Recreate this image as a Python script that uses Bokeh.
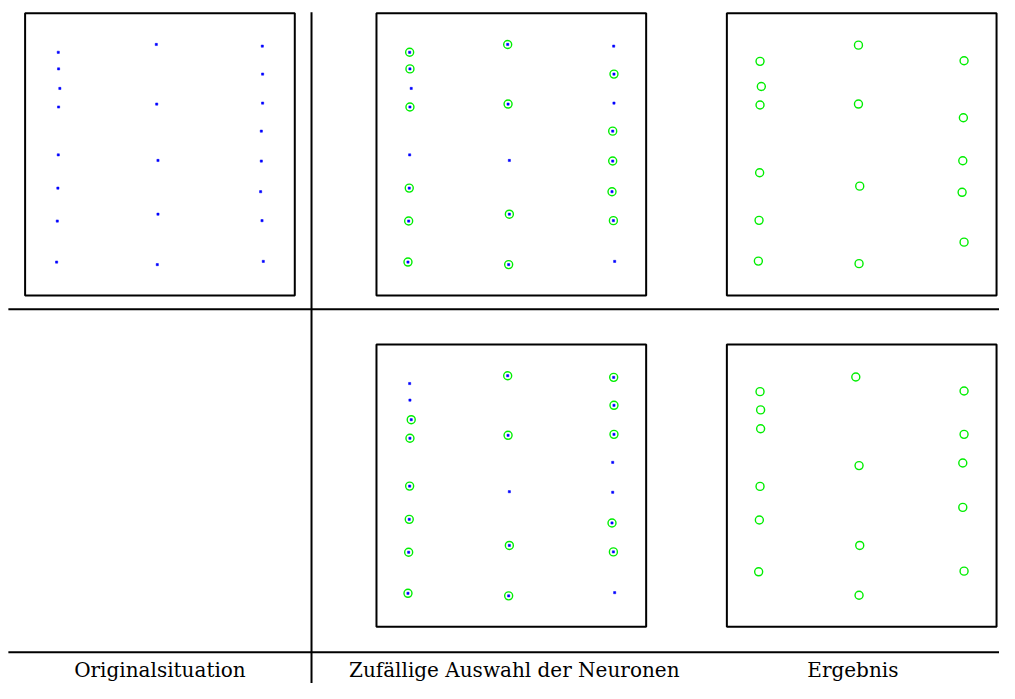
from bokeh.plotting import figure
from bokeh.models import Range1d, ColumnDataSource
from bokeh.embed import file_html
from bokeh.resources import INLINE
from bokeh.core.properties import value

# ---- data: neuron positions inside a panel (panel units, origin top-left) ----
orig_x = [33.7, 34.0, 35.3, 34.0, 33.7, 33.3, 32.7, 32.0,
          133.3, 133.7, 135.0, 135.0, 134.3,
          241.0, 241.3, 241.3, 240.0, 240.0, 239.3, 240.7, 242.0]
orig_y = [40.0, 57.0, 77.0, 96.0, 145.0, 179.0, 212.7, 254.7,
          32.0, 93.0, 150.7, 205.7, 257.3,
          33.7, 62.3, 92.0, 120.7, 151.3, 182.7, 212.3, 254.0]

# randomly selected neurons (indices into orig_*)
sel_top = [0, 1, 3, 5, 6, 7, 8, 9, 11, 12, 14, 16, 17, 18, 19]
sel_bottom = [2, 3, 4, 5, 6, 7, 8, 9, 11, 12, 13, 14, 15, 18, 19]

# results
res_top_x = [33.7, 35.0, 33.7, 33.3, 32.7, 32.0,
             133.7, 133.7, 135.0, 134.3,
             241.0, 240.3, 239.7, 239.0, 241.0]
res_top_y = [49.3, 75.0, 94.0, 163.3, 212.0, 253.7,
             32.7, 93.0, 177.0, 256.3,
             48.7, 107.0, 151.0, 183.3, 234.3]
res_bot_x = [33.7, 34.3, 34.3, 33.7, 33.0, 32.3,
             131.0, 134.3, 135.0, 134.3,
             241.0, 241.0, 239.7, 239.7, 241.0]
res_bot_y = [48.3, 67.0, 86.3, 145.3, 179.7, 232.7,
             33.3, 124.0, 205.7, 256.7,
             47.7, 92.0, 121.3, 166.7, 232.0]

column_labels = ["Originalsituation", "Zufällige Auswahl der Neuronen", "Ergebnis"]

# ---- layout (reference pixel space) ----
PANEL_W, PANEL_H = 274, 289
COL_X = [25, 382, 738]
ROW_Y = [13, 352]
LABEL_X = [162, 522, 866]
LABEL_Y = 685

BLUE = "#0000ff"
GREEN = "#00ee00"

p = figure(width=999, height=683, output_backend="svg", toolbar_location=None,
           x_range=Range1d(0, 1015), y_range=Range1d(699, 0),
           min_border=0, outline_line_color=None)
p.axis.visible = False
p.grid.visible = False
p.background_fill_color = "white"
p.border_fill_color = "white"

# separators
p.segment(x0=[316, 8, 8], y0=[12, 316, 667], x1=[316, 1015, 1015], y1=[699, 316, 667],
          line_color="black", line_width=2)

# panel frames
panels = [(0, 0), (1, 0), (2, 0), (1, 1), (2, 1)]
p.quad(left=[COL_X[c] for c, r in panels],
       right=[COL_X[c] + PANEL_W for c, r in panels],
       top=[ROW_Y[r] for c, r in panels],
       bottom=[ROW_Y[r] + PANEL_H for c, r in panels],
       fill_color=None, line_color="black", line_width=2)


def dots(col, row, xs, ys):
    p.scatter([COL_X[col] + x for x in xs], [ROW_Y[row] + y for y in ys],
              marker="square", size=2.2, fill_color=BLUE, line_color=BLUE, line_width=0.5)


def rings(col, row, xs, ys):
    p.scatter([COL_X[col] + x for x in xs], [ROW_Y[row] + y for y in ys],
              marker="circle", size=8, fill_color=None, line_color=GREEN, line_width=1.4)


# original situation
dots(0, 0, orig_x, orig_y)
# random selection (top & bottom)
dots(1, 0, orig_x, orig_y)
rings(1, 0, [orig_x[i] for i in sel_top], [orig_y[i] for i in sel_top])
dots(1, 1, orig_x, orig_y)
rings(1, 1, [orig_x[i] for i in sel_bottom], [orig_y[i] for i in sel_bottom])
# results
rings(2, 0, res_top_x, res_top_y)
rings(2, 1, res_bot_x, res_bot_y)

src = ColumnDataSource(dict(x=LABEL_X, y=[LABEL_Y] * 3, t=column_labels))
p.text(x="x", y="y", text="t", source=src, text_align="center", text_baseline="alphabetic",
       text_font=value("DejaVu Serif"), text_font_size="20px", text_color="black")

open("out.html", "w").write(file_html(p, INLINE))
